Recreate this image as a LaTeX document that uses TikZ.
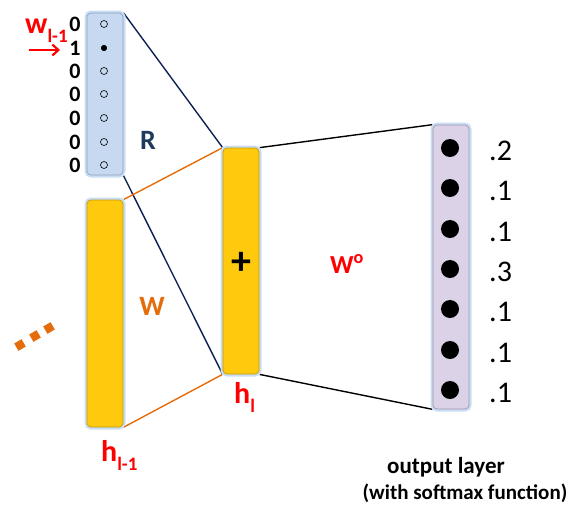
\documentclass[tikz,border=0pt]{standalone}
\usepackage{fontspec}
\setmainfont{Carlito}
\usetikzlibrary{arrows.meta}
\pgfdeclarelayer{bg}
\pgfsetlayers{bg,main}
\definecolor{glow}{HTML}{C9DEF5}
\definecolor{ybarfill}{HTML}{FFC90E}
\definecolor{ybarline}{HTML}{C49A00}
\definecolor{rfill}{HTML}{C6D9F0}
\definecolor{rline}{HTML}{8EA3BC}
\definecolor{ofill}{HTML}{DCD2E8}
\definecolor{oline}{HTML}{9E94AA}
\definecolor{navy}{HTML}{0F2257}
\definecolor{rlabel}{HTML}{1F3A5F}
\definecolor{orng}{HTML}{E46C0A}
\definecolor{myred}{HTML}{FF0000}
\tikzset{
  bar/.style={rectangle, rounded corners=4pt, minimum width=36pt, inner sep=0pt,
    line width=0.7pt, preaction={draw=glow, line width=5pt}},
  ybar/.style={bar, fill=ybarfill, draw=ybarline},
  rbar/.style={bar, fill=rfill, draw=rline},
  obar/.style={bar, fill=ofill, draw=oline},
  hot/.style={circle, draw=black, line width=0.6pt, inner sep=0pt, minimum size=7pt},
  hotfull/.style={hot, fill=black, minimum size=5.5pt},
  odot/.style={circle, fill=black, inner sep=0pt, minimum size=18pt},
  digit/.style={font=\fontsize{22}{22}\selectfont\bfseries, inner sep=0pt},
  prob/.style={font=\fontsize{30}{30}\selectfont, inner sep=0pt, anchor=west},
  big/.style={font=\fontsize{28}{28}\selectfont\bfseries, inner sep=0pt},
  navyline/.style={draw=navy, line width=1.4pt},
  orline/.style={draw=orng, line width=1.4pt},
  blline/.style={draw=black, line width=1.4pt},
  odots/.style={fill=orng, inner sep=0pt, minimum size=8.5pt, rotate=30},
  caption/.style={inner sep=0pt, font=\fontsize{21}{21}\selectfont\bfseries},
}
\begin{document}
\begin{tikzpicture}[x=1pt,y=-1pt]
\useasboundingbox (0,0) rectangle (568,509);

% bars
\node[rbar, minimum height=162pt] (R) at (105,94) {};
\node[ybar, minimum height=227pt] (hp) at (105,313.5) {};
\node[ybar, minimum height=226pt] (hl) at (241,261) {};
\node[obar, minimum height=284pt] (out) at (451,267) {};

% connectors
\begin{pgfonlayer}{bg}
\draw[navyline] (R.north east) -- (hl.north west);
\draw[navyline] (R.south east) -- (hl.south west);
\draw[orline] (hp.north east) -- (hl.north west);
\draw[orline] (hp.south east) -- (hl.south west);
\draw[blline] (hl.north east) -- (out.north west);
\draw[blline] (hl.south east) -- (out.south west);
\end{pgfonlayer}

% one-hot vector
\node[hot] (r1) at (104,24) {};
\node[hotfull] (r2) at (104,48) {};
\node[hot] (r3) at (104,71) {};
\node[hot] (r4) at (104,94) {};
\node[hot] (r5) at (104,118) {};
\node[hot] (r6) at (104,142) {};
\node[hot] (r7) at (104,165) {};
\node[digit] (d1) at (75,24) {0};
\node[digit] (d2) at (75,48) {1};
\node[digit] (d3) at (75,71) {0};
\node[digit] (d4) at (75,94) {0};
\node[digit] (d5) at (75,118) {0};
\node[digit] (d6) at (75,142) {0};
\node[digit] (d7) at (75,165) {0};

% w_{l-1} label and arrow
\node[inner sep=0pt, anchor=base west, text=myred, font=\fontsize{30}{30}\selectfont\bfseries] (wl) at (25,33)
  {w\raisebox{-0.3em}{\fontsize{19}{19}\selectfont l-1}};
\coordinate (a1) at (29,50);
\coordinate (a2) at (60,50);
\draw[myred, line width=2.2pt, -{Straight Barb[length=6pt,width=11pt]}] (a1) -- (a2);

% output dots and probabilities
\node[odot] (o1) at (450,148) {};
\node[odot] (o2) at (450,188) {};
\node[odot] (o3) at (450,229) {};
\node[odot] (o4) at (450,269) {};
\node[odot] (o5) at (450,309) {};
\node[odot] (o6) at (450,350) {};
\node[odot] (o7) at (450,390) {};
\node[prob] (p1) at (489,151) {.2};
\node[prob] (p2) at (489,191) {.1};
\node[prob] (p3) at (489,232) {.1};
\node[prob] (p4) at (489,272) {.3};
\node[prob] (p5) at (489,312) {.1};
\node[prob] (p6) at (489,353) {.1};
\node[prob] (p7) at (489,393) {.1};

% labels
\node[big, text=rlabel] (Rl) at (148,140) {R};
\node[big, text=orng] (Wl) at (152,306) {W};
\node[big, font=\fontsize{40}{40}\selectfont\bfseries] (plus) at (241,263) {+};
\node[big, text=myred, font=\fontsize{26}{26}\selectfont\bfseries] (Wo) at (347,264) {W\textsuperscript{o}};
\node[inner sep=0pt, anchor=base west, text=myred, font=\fontsize{30}{30}\selectfont\bfseries] (hll) at (234,403)
  {h\raisebox{-0.3em}{\fontsize{19}{19}\selectfont l}};
\node[inner sep=0pt, anchor=base west, text=myred, font=\fontsize{30}{30}\selectfont\bfseries] (hpl) at (101,461)
  {h\raisebox{-0.3em}{\fontsize{19}{19}\selectfont l-1}};
\node[caption, font=\fontsize{23}{23}\selectfont\bfseries] (cap1) at (446,467) {output layer};
\node[caption] (cap2) at (465,493) {(with softmax function)};

% ellipsis
\node[odots] (e1) at (20,345) {};
\node[odots] (e2) at (35,336) {};
\node[odots] (e3) at (49,328) {};
\end{tikzpicture}
\end{document}
